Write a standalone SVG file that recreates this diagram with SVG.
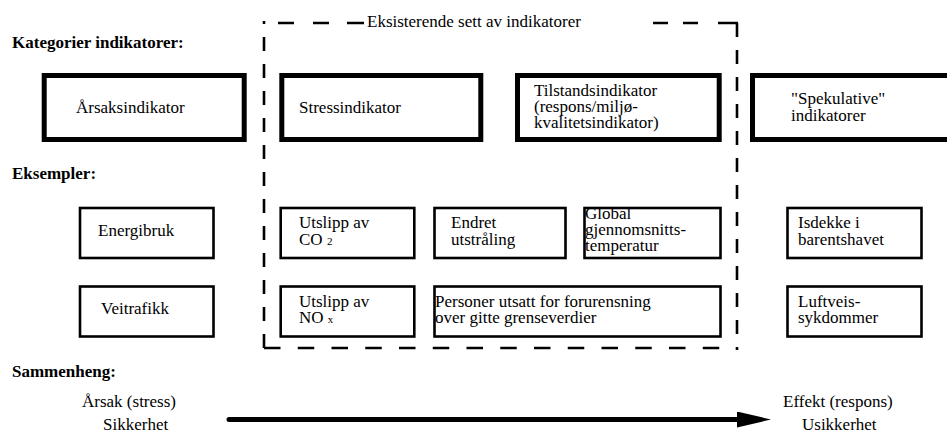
<svg xmlns="http://www.w3.org/2000/svg" width="947" height="437" viewBox="0 0 947 437">
  <style>
    text { font-family: "Liberation Serif", Tinos, "DejaVu Serif", "Times New Roman", Times, serif; font-size: 17px; fill: #000; }
    .head { font-weight: bold; }
    .main { fill: #fff; stroke: #000; stroke-width: 5; }
    .ex { fill: #fff; stroke: #000; stroke-width: 2.6; }
    .frame { fill: none; stroke: #000; stroke-width: 2.6; }
    .sub { font-size: 11px; }
  </style>
  <defs>
    <marker id="arrowhead" markerUnits="userSpaceOnUse" markerWidth="34" markerHeight="18" refX="0" refY="8" orient="auto">
      <path d="M0,0 L34,8 L0,16 Z" fill="#000"/>
    </marker>
  </defs>

  <rect width="947" height="437" fill="#fff"/>

  <!-- Section headings -->
  <g id="headings">
    <text class="head" x="12" y="48">Kategorier indikatorer:</text>
    <text class="head" x="12" y="179">Eksempler:</text>
    <text class="head" x="12" y="377">Sammenheng:</text>
  </g>

  <!-- Dashed frame around the existing indicator set -->
  <g id="existing-set">
    <path class="frame" d="M264,348 V21" stroke-dasharray="14 13"/>
    <path class="frame" d="M737,23 V350" stroke-dasharray="14 13"/>
    <path class="frame" d="M264,348 H720" stroke-dasharray="16.5 17.25"/>
    <path class="frame" d="M278,23 H294 M313,23 H329 M347,23 H364 M653,23 H668 M683,23 H698 M718,23 H738"/>
    <text x="367" y="27">Eksisterende sett av indikatorer</text>
  </g>

  <!-- Indicator categories -->
  <g id="cat-aarsak">
    <rect class="main" x="44.2" y="75.5" width="200" height="64"/>
    <text x="76" y="113">Årsaksindikator</text>
  </g>
  <g id="cat-stress">
    <rect class="main" x="281.8" y="75.5" width="199" height="64"/>
    <text x="299" y="113">Stressindikator</text>
  </g>
  <g id="cat-tilstand">
    <rect class="main" x="517.5" y="75.5" width="201.7" height="64"/>
    <text x="534" y="96">Tilstandsindikator</text>
    <text x="534" y="112">(respons/miljø-</text>
    <text x="534" y="128">kvalitetsindikator)</text>
  </g>
  <g id="cat-spekulative">
    <rect class="main" x="752.5" y="75.5" width="250" height="64"/>
    <text x="791" y="104">"Spekulative"</text>
    <text x="791" y="121">indikatorer</text>
  </g>

  <!-- Examples, first row -->
  <g id="ex-energibruk">
    <rect class="ex" x="80" y="208" width="133.5" height="50"/>
    <text x="98" y="236">Energibruk</text>
  </g>
  <g id="ex-co2">
    <rect class="ex" x="280.7" y="208" width="133.6" height="50"/>
    <text x="299" y="228">Utslipp av</text>
    <text x="299" y="245">CO <tspan class="sub">2</tspan></text>
  </g>
  <g id="ex-utstraaling">
    <rect class="ex" x="434.5" y="208" width="131" height="50"/>
    <text x="451" y="228">Endret</text>
    <text x="451" y="245">utstråling</text>
  </g>
  <g id="ex-temperatur">
    <rect class="ex" x="584.5" y="208" width="136" height="50"/>
    <text x="585" y="219">Global</text>
    <text x="585" y="235">gjennomsnitts-</text>
    <text x="585" y="251">temperatur</text>
  </g>
  <g id="ex-isdekke">
    <rect class="ex" x="787.5" y="208" width="134" height="50"/>
    <text x="798" y="228">Isdekke i</text>
    <text x="798" y="245">barentshavet</text>
  </g>

  <!-- Examples, second row -->
  <g id="ex-veitrafikk">
    <rect class="ex" x="80" y="286.5" width="133.5" height="50"/>
    <text x="101" y="314">Veitrafikk</text>
  </g>
  <g id="ex-nox">
    <rect class="ex" x="280.7" y="286.5" width="133.6" height="50"/>
    <text x="299" y="307">Utslipp av</text>
    <text x="299" y="323">NO <tspan class="sub">x</tspan></text>
  </g>
  <g id="ex-personer">
    <rect class="ex" x="434.5" y="286.5" width="286" height="50"/>
    <text x="435" y="307">Personer utsatt for forurensning</text>
    <text x="435" y="323">over gitte grenseverdier</text>
  </g>
  <g id="ex-luftveis">
    <rect class="ex" x="787.5" y="286.5" width="134" height="50"/>
    <text x="798" y="307">Luftveis-</text>
    <text x="798" y="323">sykdommer</text>
  </g>

  <!-- Cause/effect scale -->
  <g id="scale-left">
    <text x="82" y="407">Årsak (stress)</text>
    <text x="103" y="430">Sikkerhet</text>
  </g>
  <g id="scale-right">
    <text x="783" y="407">Effekt (respons)</text>
    <text x="802" y="430">Usikkerhet</text>
  </g>
  <g id="connectors">
    <line x1="229" y1="419.5" x2="737" y2="419.5" stroke="#000" stroke-width="5" stroke-linecap="round" marker-end="url(#arrowhead)"/>
  </g>
</svg>
